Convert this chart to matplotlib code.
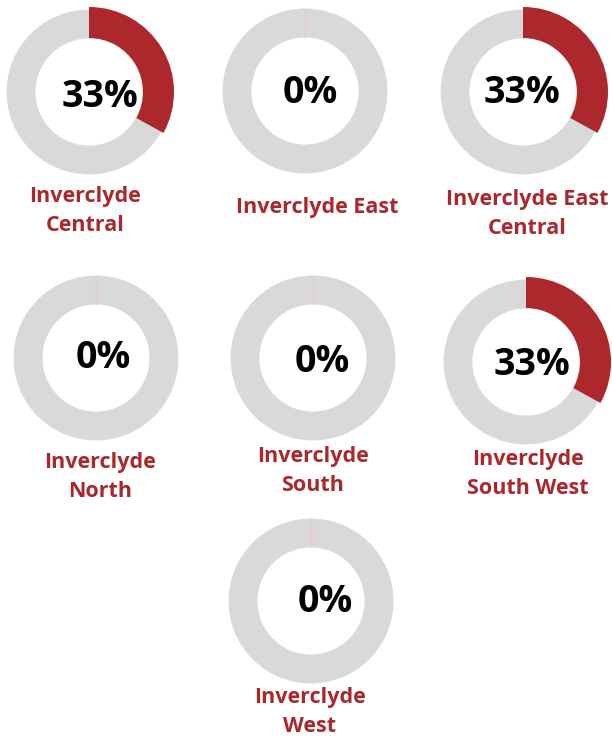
import matplotlib
matplotlib.use("Agg")
import matplotlib.pyplot as plt

# ---- data ----
areas = ["Inverclyde\nCentral", "Inverclyde East", "Inverclyde East\nCentral",
         "Inverclyde\nNorth", "Inverclyde\nSouth", "Inverclyde\nSouth West",
         "Inverclyde\nWest"]
pct = [33, 0, 33, 0, 0, 33, 0]

# ---- layout (pixel coordinates, y from top) ----
W, H = 612, 740
centers = [(89, 92), (305, 91), (523, 92), (96, 358), (313, 358), (526, 362), (311, 601)]
pct_pos = [(100, 97), (310, 93), (522, 93), (103, 358), (322, 362), (532, 365), (325, 602)]
lab_pos = [(85, 211), (317, 208), (527, 214), (100, 477), (313, 471), (528, 474), (310, 712)]
R = 82
RING = 28

RED = "#AC282C"
GREY = "#D9D9D9"
LABEL = "#A9282C"

plt.rcParams['font.family'] = ['Open Sans', 'DejaVu Sans']

fig = plt.figure(figsize=(W / 100, H / 100), dpi=100)
ax = fig.add_axes([0, 0, 1, 1])

for name, p, (cx, cy), (tx, ty), (lx, ly) in zip(areas, pct, centers, pct_pos, lab_pos):
    c = (cx, H - cy)
    ax.pie([p, 100 - p], colors=["none", GREY], startangle=90, counterclock=False,
           center=c, radius=R, wedgeprops=dict(width=RING, linewidth=0.6, edgecolor=GREY),
           frame=True)
    if p > 0:
        ax.pie([p, 100 - p], colors=[RED, "none"], startangle=90, counterclock=False,
               center=c, radius=R + 3, wedgeprops=dict(width=RING + 3, linewidth=0),
               frame=True)
    else:
        ax.plot([cx, cx], [H - cy + R - RING, H - cy + R], color="#EDC9CA", lw=1.0,
                zorder=5)
    ax.text(tx, H - ty, f"{p}%", ha="center", va="center", fontsize=27,
            fontweight="bold", color="black", zorder=6)
    ax.text(lx, H - ly, name, ha="center", va="center", fontsize=15.5,
            fontweight="bold", color=LABEL, linespacing=1.5)

ax.set_xlim(0, W)
ax.set_ylim(0, H)
ax.set_aspect("equal")
ax.axis("off")
fig.savefig("out.png", dpi=100, facecolor="white")
